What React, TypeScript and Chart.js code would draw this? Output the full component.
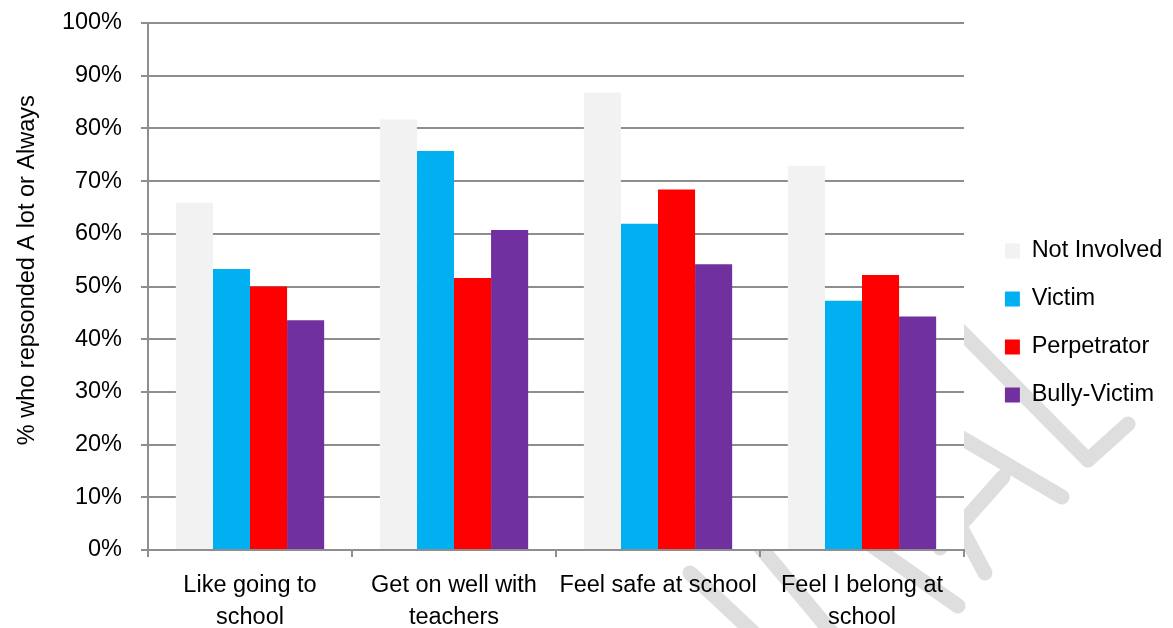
import React, { useEffect, useRef } from 'react';
import { Chart, registerables } from 'chart.js';

Chart.register(...registerables);

// ---- data ----
const categories: string[][] = [
  ['Like going to', 'school'],
  ['Get on well with', 'teachers'],
  ['Feel safe at school'],
  ['Feel I belong at', 'school'],
];
const seriesNames = ['Not Involved', 'Victim', 'Perpetrator', 'Bully-Victim'];
const notInvolved = [65.9, 81.7, 86.8, 72.9];
const victim = [53.3, 75.7, 61.9, 47.3];
const perpetrator = [50.0, 51.6, 68.4, 52.2];
const bullyVictim = [43.6, 60.7, 54.2, 44.3];
const yTickValues = [0, 10, 20, 30, 40, 50, 60, 70, 80, 90, 100];
const yTickLabels = ['0%', '10%', '20%', '30%', '40%', '50%', '60%', '70%', '80%', '90%', '100%'];
const yAxisTitle = '% who repsonded A lot or Always';

// ---- styles ----
const seriesColors = ['#F2F2F2', '#00B0F0', '#FF0000', '#7030A0'];
const FONT = "'Liberation Sans', Arial, sans-serif";
const FONT_SIZE = 23.5;
const GRID = '#8e8e8e';
const W = 1173;
const H = 628;
const LEGEND_W = 209;
const LEGEND_DX = 16.4;
const LEGEND_DY = -2.5;

// decorative background watermark strokes (x1, y1, x2, y2)
const WATERMARK_STROKES: number[][] = [
  [690, 573, 772, 650],
  [735, 517, 848, 652],
  [850, 530, 958, 606],
  [905, 423, 985, 573],
  [880, 390, 1062, 497],
  [940, 548, 1003, 477],
  [930, 300, 1088, 460],
  [1088, 460, 1128, 424],
];

const backdropPlugin = {
  id: 'backdrop',
  beforeLayout(chart: any) {
    const lg = chart.legend;
    if (lg && !lg.__patched) {
      const origFit = lg.fit.bind(lg);
      lg.fit = function () {
        origFit();
        this.width = LEGEND_W;
      };
      lg.__patched = true;
    }
  },
  afterLayout(chart: any) {
    const lg = chart.legend;
    if (lg) {
      lg.left += LEGEND_DX;
      lg.right += LEGEND_DX;
      lg.top += LEGEND_DY;
      lg.bottom += LEGEND_DY;
    }
  },
  beforeDraw(chart: any) {
    const { ctx, chartArea: a, width, height } = chart;
    ctx.save();
    ctx.fillStyle = '#ffffff';
    ctx.fillRect(0, 0, width, height);
    ctx.strokeStyle = '#dedede';
    ctx.lineWidth = 15;
    ctx.lineCap = 'round';
    ctx.lineJoin = 'round';
    for (const [x1, y1, x2, y2] of WATERMARK_STROKES) {
      ctx.beginPath();
      ctx.moveTo(x1, y1);
      ctx.lineTo(x2, y2);
      ctx.stroke();
    }
    ctx.fillStyle = '#ffffff';
    ctx.fillRect(a.left, a.top, a.right - a.left, a.bottom - a.top);
    ctx.restore();
  },
};

export default function App() {
  const ref = useRef<HTMLCanvasElement | null>(null);

  useEffect(() => {
    document.body.style.margin = '0';
    const canvas = ref.current;
    if (!canvas) return;
    const series = [notInvolved, victim, perpetrator, bullyVictim];
    const font = { family: FONT, size: FONT_SIZE };
    const chart = new Chart(canvas, {
      type: 'bar',
      data: {
        labels: categories,
        datasets: series.map((values, i) => ({
          label: seriesNames[i],
          data: values,
          backgroundColor: seriesColors[i],
          borderWidth: 0,
          categoryPercentage: 0.727,
          barPercentage: 1.0,
        })),
      },
      options: {
        responsive: false,
        animation: false,
        devicePixelRatio: 1,
        events: [],
        layout: { padding: { top: 23, right: 0, bottom: 0, left: 0 } },
        plugins: {
          tooltip: { enabled: false },
          legend: {
            display: true,
            position: 'right',
            align: 'center',
            labels: {
              boxWidth: 15,
              boxHeight: 15,
              padding: 24.5,
              color: '#000000',
              font,
            },
          },
        },
        scales: {
          x: {
            type: 'category',
            offset: true,
            afterFit: (scale: any) => {
              scale.height = 78;
            },
            grid: {
              display: true,
              offset: true,
              drawOnChartArea: false,
              drawTicks: true,
              tickLength: 7,
              color: GRID,
              lineWidth: 2,
            },
            border: { display: true, color: GRID, width: 2 },
            ticks: {
              color: '#000000',
              font: { family: FONT, size: FONT_SIZE, lineHeight: 1.4 },
              padding: 11.6,
              maxRotation: 0,
              minRotation: 0,
              autoSkip: false,
            },
          },
          y: {
            min: 0,
            max: 100,
            afterFit: (scale: any) => {
              scale.width = 148;
              scale.paddingTop = 0;
              scale.paddingBottom = 0;
            },
            afterBuildTicks: (scale: any) => {
              scale.ticks = yTickValues.map((v) => ({ value: v }));
            },
            grid: {
              color: GRID,
              lineWidth: 2,
              drawTicks: true,
              tickLength: 7,
            },
            border: { display: true, color: GRID, width: 2 },
            ticks: {
              color: '#000000',
              font,
              padding: 19,
              callback: (v: any) => {
                const idx = yTickValues.indexOf(Number(v));
                return idx >= 0 ? yTickLabels[idx] : '';
              },
            },
            title: {
              display: true,
              text: '     ' + yAxisTitle,
              color: '#000000',
              font: { family: FONT, size: FONT_SIZE, lineHeight: 1.2 },
              padding: { top: 13, bottom: 0 },
            },
          },
        },
      },
      plugins: [backdropPlugin],
    } as any);
    return () => {
      chart.destroy();
    };
  }, []);

  return (
    <div style={{ width: W, height: H }}>
      <canvas ref={ref} width={W} height={H} style={{ display: 'block' }} />
    </div>
  );
}
